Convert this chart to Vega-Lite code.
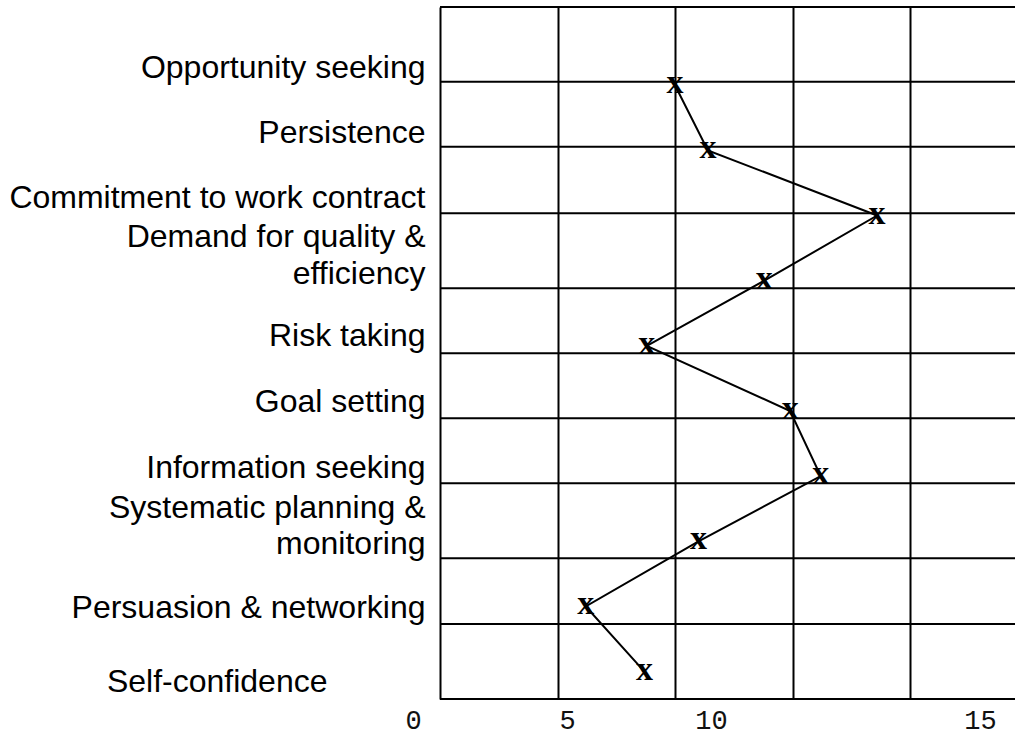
{
  "$schema": "https://vega.github.io/schema/vega-lite/v6.json",
  "autosize": "none",
  "padding": {"left": 440, "top": 7, "right": 0, "bottom": 36},
  "width": 575,
  "height": 692,
  "background": "white",
  "config": {"view": {"stroke": null}},
  "datasets": {
    "scores": [
      {"rank": 1, "competency": "Opportunity seeking", "score": 10.0},
      {"rank": 2, "competency": "Persistence", "score": 11.4},
      {"rank": 3, "competency": "Commitment to work contract", "score": 18.6},
      {"rank": 4, "competency": "Demand for quality & efficiency", "score": 13.8},
      {"rank": 5, "competency": "Risk taking", "score": 8.8},
      {"rank": 6, "competency": "Goal setting", "score": 14.9},
      {"rank": 7, "competency": "Information seeking", "score": 16.2},
      {"rank": 8, "competency": "Systematic planning & monitoring", "score": 11.0},
      {"rank": 9, "competency": "Persuasion & networking", "score": 6.2},
      {"rank": 10, "competency": "Self-confidence", "score": 8.7}
    ],
    "rows": [
      {"boundary": -0.2},
      {"boundary": 0.946},
      {"boundary": 1.944},
      {"boundary": 2.966},
      {"boundary": 4.117},
      {"boundary": 5.115},
      {"boundary": 6.112},
      {"boundary": 7.11},
      {"boundary": 8.261},
      {"boundary": 9.269},
      {"boundary": 10.42}
    ]
  },
  "layer": [
    {
      "data": {"name": "scores"},
      "mark": {"type": "line", "color": "black", "strokeWidth": 2},
      "encoding": {
        "x": {
          "field": "score", "type": "quantitative",
          "scale": {"domain": [0, 24.468], "nice": false, "zero": false},
          "axis": {
            "title": null,
            "values": [0, 5, 10, 15, 20],
            "grid": true, "gridColor": "black", "gridWidth": 2, "gridOpacity": 1,
            "domain": false, "ticks": false, "tickSize": 0,
            "labelPadding": 8,
            "labelFont": "Liberation Mono", "labelFontSize": 27, "labelColor": "#111",
            "labelBaseline": "top", "labelAlign": "center",
            "labelExpr": "datum.value == 20 ? '' : datum.label",
            "labelOverlap": false, "labelFlush": false, "labelBound": false,
            "labelOffset": {"expr": "datum.value == 0 ? -27 : datum.value == 5 ? 9.5 : datum.value == 10 ? 36 : datum.value == 15 ? 187.5 : 0"}
          }
        },
        "y": {
          "field": "rank", "type": "quantitative",
          "scale": {"domain": [-0.2, 10.42], "reverse": true, "nice": false, "zero": false},
          "axis": {
            "title": null,
            "values": [1, 2, 3, 4, 5, 6, 7, 8, 9, 10],
            "grid": false, "domain": false, "ticks": false, "tickSize": 0,
            "labelPadding": {"expr": "datum.value == 10 ? 113 : 15"},
            "labelFont": "Liberation Sans", "labelFontSize": 32, "labelColor": "black",
            "labelAlign": "right", "labelBaseline": "middle", "labelLineHeight": 36.5,
            "labelOverlap": false, "labelFlush": false, "labelBound": false, "labelLimit": 0,
            "labelExpr": "['', 'Opportunity seeking', 'Persistence', 'Commitment to work contract', ['Demand for quality &', 'efficiency'], 'Risk taking', 'Goal setting', 'Information seeking', ['Systematic planning &', 'monitoring'], 'Persuasion & networking', 'Self-confidence'][datum.value]",
            "labelOffset": {"expr": "[0, -18, -18, -18, -44, -10, -9, -9, -34, 1, 10][datum.value]"}
          }
        },
        "order": {"field": "rank", "type": "quantitative"}
      }
    },
    {
      "data": {"name": "rows"},
      "mark": {"type": "rule", "color": "black", "strokeWidth": 2},
      "encoding": {
        "y": {"field": "boundary", "type": "quantitative"}
      }
    },
    {
      "data": {"name": "scores"},
      "mark": {"type": "text", "text": "x", "font": "Liberation Serif", "fontWeight": "bold", "fontSize": 34, "align": "center", "baseline": "middle", "dy": -2, "color": "black"},
      "encoding": {
        "x": {"field": "score", "type": "quantitative"},
        "y": {"field": "rank", "type": "quantitative"}
      }
    }
  ]
}
